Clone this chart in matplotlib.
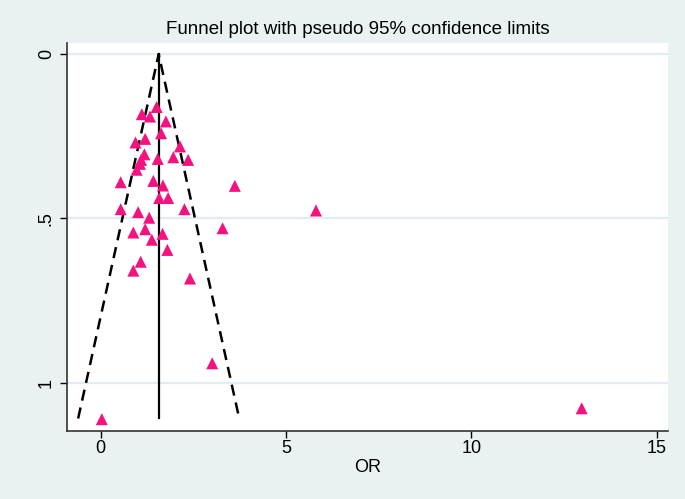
#!/usr/bin/env python3

import matplotlib
matplotlib.use("Agg")
import matplotlib.pyplot as plt

# study estimates: odds ratio and its standard error
odds_ratio = [1.51, 1.11, 1.33, 1.76, 1.63, 1.20, 0.94, 2.14, 1.18, 1.54,
              1.96, 2.36, 1.09, 1.06, 0.97, 0.54, 1.42, 1.68, 3.62, 1.58,
              1.82, 2.26, 0.54, 1.01, 1.31, 5.81, 3.29, 0.88, 1.20, 1.67,
              1.38, 1.80, 1.08, 0.88, 2.41, 3.01, 0.03, 12.98]
std_err = [0.161, 0.183, 0.190, 0.205, 0.241, 0.258, 0.269, 0.281, 0.305, 0.319,
           0.314, 0.322, 0.322, 0.334, 0.352, 0.390, 0.386, 0.400, 0.401, 0.438,
           0.438, 0.472, 0.472, 0.481, 0.498, 0.476, 0.530, 0.543, 0.533, 0.547,
           0.565, 0.596, 0.632, 0.659, 0.683, 0.941, 1.111, 1.078]

pooled = 1.565
se_max = 1.109

x_ticks = [0, 5, 10, 15]
y_ticks = [0, 0.5, 1]
y_labels = ["0", ".5", "1"]

plt.rcParams["font.family"] = ["Liberation Sans", "DejaVu Sans"]

bg = "#E9F1F2"
fig = plt.figure(figsize=(6.85, 4.99), dpi=100, facecolor=bg)
ax = fig.add_axes([0.0983, 0.137, 0.8764, 0.777])
ax.set_facecolor("white")

# gridlines
for y in y_ticks:
    ax.axhline(y, color="#E3ECEE", lw=1.6, zorder=0)

# pseudo 95% confidence limits
lo = pooled - 1.96 * se_max
hi = pooled + 1.96 * se_max
ax.plot([lo, pooled, hi], [se_max, 0, se_max], color="black", lw=1.8,
        linestyle=(0, (4.5, 2.8)), zorder=2)
ax.plot([pooled, pooled], [0, se_max], color="black", lw=1.6, zorder=2)

ax.scatter(odds_ratio, std_err, marker="^", s=75, color="#F5127F",
           edgecolors="none", zorder=3)

ax.set_xlim(-0.90, 15.30)
ax.set_ylim(1.146, -0.034)
ax.set_xticks(x_ticks)
ax.set_yticks(y_ticks)
ax.set_yticklabels(y_labels, rotation=90, va="center")
ax.tick_params(axis="both", direction="out", length=5, width=1,
               labelsize=13, colors="black", pad=4)
ax.tick_params(axis="x", pad=2)

for side in ["top", "right"]:
    ax.spines[side].set_visible(False)
for side in ["left", "bottom"]:
    ax.spines[side].set_color("#333333")
    ax.spines[side].set_linewidth(1.2)

ax.set_xlabel("OR", fontsize=13, labelpad=1)
fig.text(0.523, 0.94, "Funnel plot with pseudo 95% confidence limits",
         ha="center", va="center", fontsize=13.5)

fig.savefig("out.png", dpi=100, facecolor=bg)
plt.close()
